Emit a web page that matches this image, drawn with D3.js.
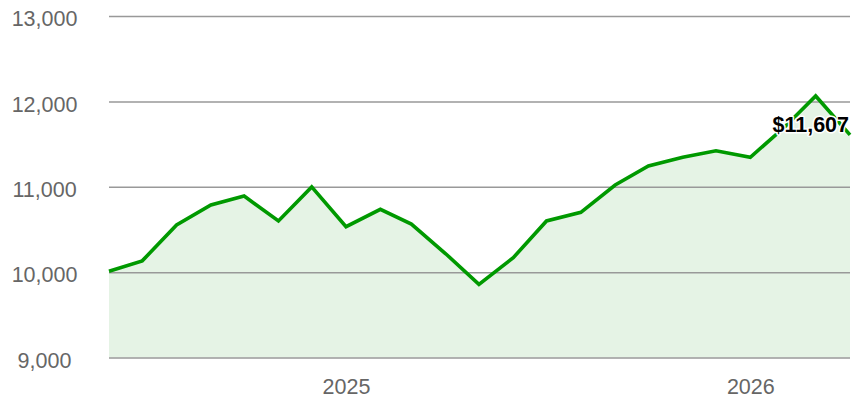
<!DOCTYPE html>
<html>
<head>
<meta charset="utf-8">
<script src="https://cdn.jsdelivr.net/npm/d3@7"></script>
<style>
  html, body { margin: 0; padding: 0; background: #fff; }
  svg { display: block; font-family: "Liberation Sans", Arial, sans-serif; }
</style>
</head>
<body>
<svg id="chart" width="866" height="401"></svg>
<script>
const months = ["2024-06","2024-07","2024-08","2024-09","2024-10","2024-11","2024-12",
  "2025-01","2025-02","2025-03","2025-04","2025-05","2025-06","2025-07","2025-08",
  "2025-09","2025-10","2025-11","2025-12","2026-01","2026-02","2026-03","2026-04"];
const values = [10010,10132,10552,10786,10891,10599,10998,10532,10736,10563,10215,
  9857,10169,10599,10700,11020,11243,11345,11422,11345,11700,12063,11607];
const yTicks = [9000,10000,11000,12000,13000];
const xTickLabels = ["2025","2026"];
const endLabel = "$11,607";

const W = 866, H = 401;
const margin = {left: 109, right: 16, top: 16, bottom: 43.5};
const parse = d3.timeParse("%Y-%m");
const data = months.map((m, i) => ({date: parse(m), value: values[i]}));

const svg = d3.select("#chart");
const x = d3.scaleTime()
  .domain(d3.extent(data, d => d.date))
  .range([margin.left, W - margin.right]);
const y = d3.scaleLinear()
  .domain([9000, 13000])
  .range([H - margin.bottom, margin.top]);

// area
svg.append("path")
  .datum(data)
  .attr("fill", "#e5f3e5")
  .attr("d", d3.area().x(d => x(d.date)).y0(y(9000)).y1(d => y(d.value)));

// gridlines
const yAxis = d3.axisLeft(y).tickValues(yTicks).tickSize(-(W - margin.left - margin.right))
  .tickFormat(d3.format(","));
const gy = svg.append("g").attr("transform", `translate(${margin.left},0)`).call(yAxis);
gy.select(".domain").remove();
gy.selectAll(".tick line").attr("stroke", "#999").attr("stroke-width", 1.5);
gy.selectAll(".tick text")
  .attr("x", 44.5 - margin.left)
  .attr("dy", "0.45em")
  .attr("text-anchor", "middle")
  .attr("fill", "#666")
  .style("font-size", "21.5px")
  .style("font-family", "'Liberation Sans', Arial, sans-serif");

// x axis labels
const xTickDates = xTickLabels.map(s => d3.timeParse("%Y")(s));
const xAxis = d3.axisBottom(x).tickValues(xTickDates).tickSize(0).tickFormat(d3.timeFormat("%Y"));
const gx = svg.append("g").attr("transform", `translate(0,${y(9000)})`).call(xAxis);
gx.select(".domain").remove();
gx.selectAll(".tick text")
  .attr("y", 36.5)
  .attr("dy", 0)
  .attr("fill", "#666")
  .style("font-size", "21.5px")
  .style("font-family", "'Liberation Sans', Arial, sans-serif");

// line
svg.append("path")
  .datum(data)
  .attr("fill", "none")
  .attr("stroke", "#009900")
  .attr("stroke-width", 3.6)
  .attr("stroke-linejoin", "miter")
  .attr("d", d3.line().x(d => x(d.date)).y(d => y(d.value)));

// end label
const last = data[data.length - 1];
svg.append("text")
  .attr("x", x(last.date) - 1)
  .attr("y", y(last.value) - 3)
  .attr("text-anchor", "end")
  .attr("fill", "#000")
  .attr("stroke", "#fff")
  .attr("stroke-width", 3)
  .attr("paint-order", "stroke")
  .attr("stroke-linejoin", "round")
  .style("font-size", "21.5px")
  .style("font-weight", "bold")
  .text(endLabel);
</script>
</body>
</html>
